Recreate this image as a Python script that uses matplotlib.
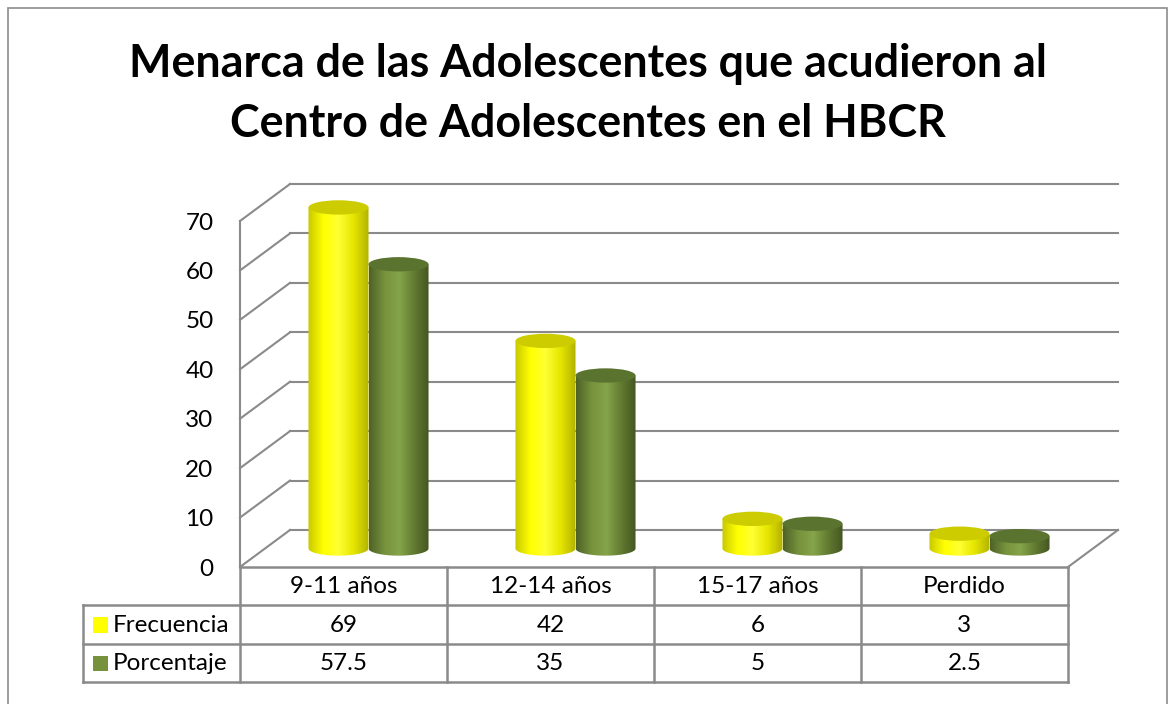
import numpy as np
import matplotlib.pyplot as plt
from matplotlib.patches import Ellipse, Rectangle, PathPatch
from matplotlib.path import Path
from matplotlib.colors import LinearSegmentedColormap

plt.rcParams['font.family'] = ['Lato', 'DejaVu Sans']

categorias = ["9-11 años", "12-14 años", "15-17 años", "Perdido"]
frecuencia = [69, 42, 6, 3]
porcentaje = [57.5, 35, 5, 2.5]
series = ["Frecuencia", "Porcentaje"]
etiquetas_tabla = [["69", "42", "6", "3"], ["57.5", "35", "5", "2.5"]]
ticks_y = [0, 10, 20, 30, 40, 50, 60, 70]

W, H = 1176, 704
fig = plt.figure(figsize=(W / 100, H / 100), dpi=100)


def px_axes(x0, y0, x1, y1):
    return fig.add_axes([x0 / W, 1 - y1 / H, (x1 - x0) / W, (y1 - y0) / H])


# borde exterior
fig.patches.append(Rectangle((8 / W, -0.01), (1167 - 8) / W, 1 - 8 / H + 0.01,
                             transform=fig.transFigure, fill=False,
                             edgecolor="#8c8c8c", lw=1.2))

fig.text(0.5, 1 - 64 / H, "Menarca de las Adolescentes que acudieron al",
         ha="center", va="center", fontsize=32.3, fontweight="bold")
fig.text(0.5, 1 - 124 / H, "Centro de Adolescentes en el HBCR",
         ha="center", va="center", fontsize=32.3, fontweight="bold")

# profundidad 3D en unidades de datos
DX = 50 / 207
DY = 37 / (346 / 70)
n = len(categorias)

ax = px_axes(240, 184, 1118, 567)
gris = "#8a8a8a"
for v in ticks_y:
    ax.plot([0, DX], [v, v + DY], color=gris, lw=1.5, clip_on=False)
    ax.plot([DX, n + DX], [v + DY, v + DY], color=gris, lw=1.5, clip_on=False)
ax.plot([0, 0], [0, ticks_y[-1]], color=gris, lw=1.5, clip_on=False)
ax.plot([n, n + DX], [0, DY], color=gris, lw=1.5, clip_on=False)

colores = {
    "Frecuencia": (["#c9c900", "#ffff00", "#ffff33", "#e6e600", "#b3b300"], "#cccc00"),
    "Porcentaje": (["#4f6228", "#76923c", "#86a44a", "#617a30", "#435421"], "#5a7430"),
}

r = 0.145
b = 1.45
for j, (nombre, valores) in enumerate(zip(series, [frecuencia, porcentaje])):
    grad, tapa = colores[nombre]
    cmap = LinearSegmentedColormap.from_list(nombre, grad)
    for i, v in enumerate(valores):
        xc = i + 0.5 + DX / 2 + (2 * j - 1) * r
        y0 = DY / 2
        t = np.linspace(np.pi, 2 * np.pi, 40)
        verts = [(xc - r, y0 + v)] + [(xc + r * np.cos(a), y0 + b * np.sin(a)) for a in t] + [(xc + r, y0 + v), (xc - r, y0 + v)]
        path = Path(verts)
        patch = PathPatch(path, facecolor="none", edgecolor="none")
        ax.add_patch(patch)
        im = ax.imshow(np.linspace(0, 1, 100).reshape(1, -1), cmap=cmap, aspect="auto",
                       extent=[xc - r, xc + r, y0 - b, y0 + v], zorder=3 + j)
        im.set_clip_path(patch)
        ax.add_patch(Ellipse((xc, y0 + v), 2 * r, 2 * b, facecolor=tapa,
                             edgecolor="none", zorder=3.5 + j))

ax.set_xlim(0, n + DX)
ax.set_ylim(0, ticks_y[-1] + DY)
ax.set_yticks(ticks_y)
ax.set_xticks([])
ax.tick_params(axis="y", length=0, pad=19, labelsize=17.5)
for s in ax.spines.values():
    s.set_visible(False)
ax.patch.set_visible(False)

# tabla de datos
L = (240 - 83) / 207
tb = px_axes(83, 567, 1068, 682)
tb.set_xlim(-L, n)
tb.set_ylim(3, 0)
tb.axis("off")
kw = dict(color=gris, lw=1.8, clip_on=False)
tb.plot([0, n], [0, 0], **kw)
for y in [1, 2, 3]:
    tb.plot([-L, n], [y, y], **kw)
for x in range(n + 1):
    tb.plot([x, x], [0, 3], **kw)
tb.plot([-L, -L], [1, 3], **kw)
fs = 17.5
for i, c in enumerate(categorias):
    tb.text(i + 0.5, 0.52, c, ha="center", va="center", fontsize=fs)
    for k in range(2):
        tb.text(i + 0.5, 1.52 + k, etiquetas_tabla[k][i], ha="center", va="center", fontsize=fs)
for k, nombre in enumerate(series):
    tb.add_patch(Rectangle((-L + 0.05, 1.31 + k), 0.072, 0.4,
                           facecolor=colores[nombre][0][1], edgecolor="none"))
    tb.text(-L + 0.145, 1.52 + k, nombre, ha="left", va="center", fontsize=fs)

fig.savefig("out.png", dpi=100)
